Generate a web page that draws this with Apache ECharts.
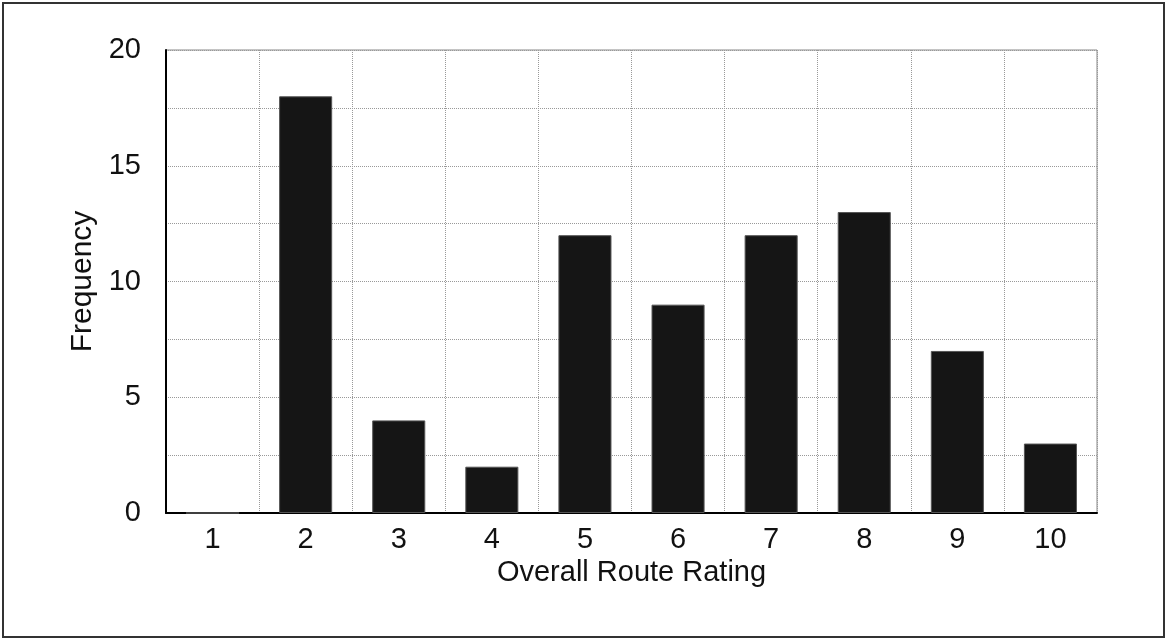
<!DOCTYPE html>
<html>
<head>
<meta charset="utf-8">
<script src="https://cdn.jsdelivr.net/npm/echarts@6/dist/echarts.min.js"></script>
<style>
  html, body { margin: 0; padding: 0; background: #fff; }
  #frame { position: absolute; left: 2px; top: 2px; width: 1159px; height: 632px; border: 2px solid #333; }
  #chart { width: 1165px; height: 639px; }
</style>
</head>
<body>
<div id="frame"></div>
<div id="chart"></div>
<script>
var ratings = ['1', '2', '3', '4', '5', '6', '7', '8', '9', '10'];
var frequency = [0, 18, 4, 2, 12, 9, 12, 13, 7, 3];

var myChart = echarts.init(document.getElementById('chart'));
var font = 'Liberation Sans, Arial, sans-serif';

var option = {
    animation: false,
    grid: {
        left: 166,
        right: 68,
        top: 50,
        bottom: 126,
        show: true,
        borderColor: '#888',
        borderWidth: 1
    },
    xAxis: {
        type: 'category',
        data: ratings,
        name: 'Overall Route Rating',
        nameLocation: 'middle',
        nameGap: 42,
        nameTextStyle: { color: '#111', fontSize: 29, fontFamily: font },
        axisLine: { lineStyle: { color: '#000', width: 2 } },
        axisTick: { show: false },
        axisLabel: { color: '#111', fontSize: 29, fontFamily: font, margin: 12 },
        splitLine: { show: true, lineStyle: { color: '#999', type: 'dotted', width: 1 } }
    },
    yAxis: {
        type: 'value',
        min: 0,
        max: 20,
        interval: 5,
        name: 'Frequency',
        nameLocation: 'middle',
        nameGap: 66,
        nameTextStyle: { color: '#111', fontSize: 30, fontFamily: font },
        axisLine: { show: true, lineStyle: { color: '#000', width: 2 } },
        axisTick: { show: false },
        axisLabel: { color: '#111', fontSize: 29, fontFamily: font, margin: 25 },
        splitLine: { lineStyle: { color: '#999', type: 'dotted', width: 1 } },
        minorTick: { show: false, splitNumber: 2 },
        minorSplitLine: { show: true, lineStyle: { color: '#999', type: 'dotted', width: 1 } }
    },
    series: [
        {
            type: 'bar',
            data: frequency,
            barWidth: '57%',
            itemStyle: { color: '#151515', borderColor: '#555', borderWidth: 1 }
        }
    ]
};
myChart.setOption(option);
</script>
</body>
</html>
